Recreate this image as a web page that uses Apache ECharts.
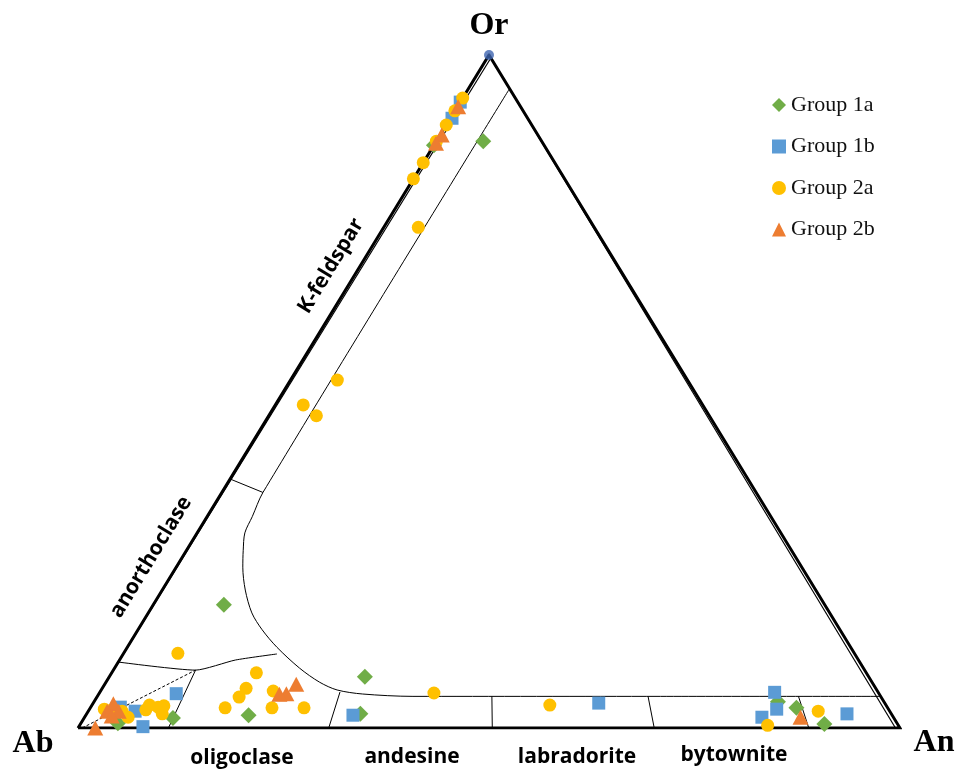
<!DOCTYPE html>
<html>
<head>
<meta charset="utf-8">
<script src="https://cdn.jsdelivr.net/npm/echarts@6/dist/echarts.min.js"></script>
<style>
  html, body { margin: 0; padding: 0; background: #ffffff; }
  #chart { width: 959px; height: 771px; }
</style>
</head>
<body>
<div id="chart"></div>
<script>
// Feldspar analyses as [An, Or] mol% (Ab = 100 - An - Or)
const group1a = [[5.7, 87.2], [0, 86.6], [8.6, 18.3], [31.1, 7.6], [33.3, 2.1], [19.8, 1.9],
  [10.8, 1.5], [4.5, 0.7], [83.2, 3.9], [85.9, 3.0], [90.5, 0.6]];
const group1b = [[0, 93.0], [0.2, 90.6], [9.4, 5.1], [3.6, 3.1], [5.7, 2.5], [7.8, 0.2],
  [32.5, 1.9], [61.5, 3.7], [82.1, 5.3], [83.6, 2.8], [82.4, 1.6], [92.5, 2.1]];
const group2a = [[0, 93.6], [0, 91.7], [0, 89.6], [0, 87.2], [0, 84.0], [0, 81.6], [4.2, 74.4],
  [5.7, 51.7], [3.4, 48.0], [5.8, 46.4], [6.6, 11.1], [17.6, 8.2], [17.5, 5.9], [17.3, 4.6],
  [16.4, 3.0], [21.0, 5.5], [22.1, 3.0], [26.0, 3.0], [40.7, 5.2], [55.7, 3.4], [88.8, 2.5],
  [83.7, 0.4], [1.8, 2.8], [2.7, 2.4], [4.1, 2.5], [5.3, 1.6], [6.9, 2.7], [7.0, 3.4],
  [8.2, 3.1], [8.8, 3.3], [9.2, 2.1]];
const group2b = [[0.1, 92.3], [0.2, 88.1], [0.1, 86.9], [23.3, 6.5], [22.8, 5.1], [22.0, 5.0],
  [87.1, 1.6], [2.1, 0], [2.5, 3.6], [2.3, 2.5], [3.7, 2.5], [3.2, 1.8]];

// Triangle corners (Ab, An, Or) and the faint second outline near the Or and An corners
const frame = [[0, 0], [100, 0], [0, 100], [0, 0]];
const innerLeft = [[0, 0], [0.45, 99.55]];
const innerRight = [[0, 100], [99.45, 0]];
const orApex = [[0, 100]];

// Field boundaries
const kfsCurve = [[5, 95], [5, 35], [5.5, 31.4], [5.8, 29.0], [6.9, 26.4], [8.1, 23.9],
  [10.1, 20.5], [12.6, 17.1], [15.1, 14.6], [18.2, 12.0], [22.5, 8.9], [26.0, 6.8],
  [28.7, 5.65], [32.1, 5.05], [38.4, 4.7], [68.5, 4.7], [95.3, 4.7]];
const kfsAnorthoclase = [[0, 37], [5, 35]];
const anorthoclaseBase = [[0, 9.8], [10, 8.6], [14.1, 10.1], [18.7, 11.0]];
const albiteOligoclase = [[10, 8.6], [11, 0]];
const albiteDashed = [[0.5, 0], [10, 8.6]];
const plagDividers = [
  [[29.2, 5.35], [30.5, 0]],
  [[48.0, 4.7], [50.4, 0]],
  [[67.0, 4.7], [70.1, 0]],
  [[85.3, 4.7], [88.9, 0]]
];

const groupNames = ['Group 1a', 'Group 1b', 'Group 2a', 'Group 2b'];
const fieldNames = ['oligoclase', 'andesine', 'labradorite', 'bytownite'];

// ternary [An, Or] -> plot coordinates
const toXY = p => [p[0] + p[1] / 2, p[1]];

function boundary(pts, extra) {
  return Object.assign({
    type: 'line', data: pts.map(toXY), showSymbol: false, symbol: 'none',
    silent: true, z: 2, animation: false,
    lineStyle: { color: '#000', width: 1 }
  }, extra || {});
}

function group(name, pts, symbol, size, color) {
  return {
    name, type: 'scatter', data: pts.map(toXY), symbol, symbolSize: size,
    itemStyle: { color, opacity: 1 }, z: 5, animation: false
  };
}

const chart = echarts.init(document.getElementById('chart'), null, { renderer: 'canvas' });

const series = [
  boundary(innerLeft, { lineStyle: { color: '#000', width: 1.2 }, z: 3 }),
  boundary(innerRight, { lineStyle: { color: '#000', width: 1.2 }, z: 3 }),
  boundary(frame, { lineStyle: { color: '#000', width: 3, join: 'miter' }, z: 3 }),
  boundary(kfsCurve, { smooth: 0.3 }),
  boundary(kfsAnorthoclase),
  boundary(anorthoclaseBase, { smooth: 0.2 }),
  boundary(albiteOligoclase),
  boundary(albiteDashed, { lineStyle: { color: '#000', width: 1, type: [3, 2] } })
];
plagDividers.forEach(d => series.push(boundary(d)));
series.push(
  group(groupNames[0], group1a, 'diamond', 16, '#70AD47'),
  group(groupNames[1], group1b, 'rect', 13, '#5B9BD5'),
  group(groupNames[2], group2a, 'circle', 13, '#FFC000'),
  group(groupNames[3], group2b, 'triangle', [16, 15], '#ED7D31'),
  { type: 'scatter', data: orApex.map(toXY), symbol: 'circle', symbolSize: 10,
    itemStyle: { color: '#3F65B0' }, z: 6, silent: true, animation: false }
);

const vertexFont = 'bold 32px "Liberation Serif", serif';
const fieldFont = 'bold 21px "Open Sans", sans-serif';
const edgeAngle = 58.7 * Math.PI / 180;

function label(text, x, y, font, rotation) {
  return {
    type: 'text', x, y, rotation: rotation || 0, silent: true,
    style: { text, font, fill: '#000', align: 'center', verticalAlign: 'middle',
      textAlign: 'center', textVerticalAlign: 'middle' }
  };
}

chart.setOption({
  animation: false,
  backgroundColor: '#ffffff',
  grid: { left: 78, right: 59, top: 55, bottom: 43 },
  xAxis: { type: 'value', min: 0, max: 100, show: false },
  yAxis: { type: 'value', min: 0, max: 100, show: false },
  legend: {
    data: groupNames.map(n => ({ name: n })),
    orient: 'vertical', left: 767, top: 89, itemGap: 19.5,
    itemWidth: 14, itemHeight: 14, itemStyle: { borderWidth: 0 },
    textStyle: { fontFamily: '"Liberation Serif", serif', fontSize: 22, color: '#111', lineHeight: 22 }
  },
  series,
  graphic: [
    label('Or', 489, 26, vertexFont),
    label('Ab', 33, 744, vertexFont),
    label('An', 934, 743, vertexFont),
    label(fieldNames[0], 242, 758, fieldFont),
    label(fieldNames[1], 412, 757, fieldFont),
    label(fieldNames[2], 577, 757, fieldFont),
    label(fieldNames[3], 734, 755, fieldFont),
    label('K-feldspar', 331, 266, fieldFont, edgeAngle),
    label('anorthoclase', 151, 557, fieldFont, edgeAngle)
  ]
});
</script>
</body>
</html>
